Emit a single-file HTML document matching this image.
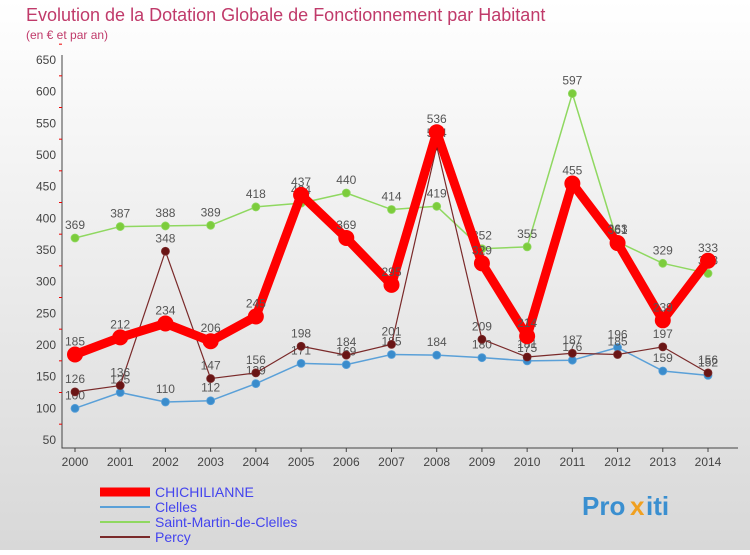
<!DOCTYPE html>
<html><head><meta charset="utf-8"><style>
body{margin:0;width:750px;height:550px;overflow:hidden;font-family:"Liberation Sans",sans-serif}
</style></head><body>
<svg width="750" height="550" xmlns="http://www.w3.org/2000/svg" id="svg">
<defs><linearGradient id="bg" x1="0" y1="0" x2="0" y2="1"><stop offset="0" stop-color="#ffffff"/><stop offset="1" stop-color="#d8d8d8"/></linearGradient></defs>
<rect x="0" y="0" width="750" height="550" fill="url(#bg)"/>
<text x="26" y="21" font-size="18" fill="#c03a6a">Evolution de la Dotation Globale de Fonctionnement par Habitant</text>
<text x="26" y="39" font-size="12" fill="#c03a6a">(en € et par an)</text>
<g id="axes"></g><g id="series"></g><g id="legend"></g>
<g font-size="26" font-weight="bold">
<text x="582" y="515" fill="#3a8fd0">Pro</text><text x="630" y="515" fill="#f0a020">x</text><text x="646" y="515" fill="#3a8fd0">iti</text></g>
</svg>
<script>
const years=["2000","2001","2002","2003","2004","2005","2006","2007","2008","2009","2010","2011","2012","2013","2014"];
const yTicks=[50,100,150,200,250,300,350,400,450,500,550,600,650];
const chich=[185,212,234,206,245,437,369,295,536,329,214,455,361,239,333];
const clelles=[100,125,110,112,139,171,169,185,184,180,175,176,196,159,152];
const smc=[369,387,388,389,418,424,440,414,419,352,355,597,363,329,313];
const percy=[126,136,348,147,156,198,184,201,514,209,181,187,185,197,156];
const NS="http://www.w3.org/2000/svg";
const X=i=>75+i*(633/14), Y=v=>440-(v-50)*380/600;
function mk(t,a,p){const e=document.createElementNS(NS,t);for(const k in a)e.setAttribute(k,a[k]);p.appendChild(e);return e;}
const ax=document.getElementById('axes');
let e=mk('path',{d:"M62 55V448H738",stroke:"#444",fill:"none","stroke-width":1},ax);

yTicks.forEach(v=>{
 const t=mk('text',{x:56,y:Y(v)+4,"font-size":12,"text-anchor":"end",fill:"#444"},ax);t.textContent=v;
 
 const m=mk('line',{x1:59,x2:62,y1:Y(v+25),y2:Y(v+25),stroke:"#e00"},ax);
 
});
years.forEach((y,i)=>{
 const t=mk('text',{x:X(i),y:466,"font-size":12,"text-anchor":"middle",fill:"#444"},ax);t.textContent=y;
 
 const m=mk('line',{x1:X(i),x2:X(i),y1:448,y2:452,stroke:"#444"},ax);
 
});
const S=document.getElementById('series');
function series(d,name,col,w,r,dot){
 const g=mk('g',{},S);
 const l=mk('polyline',{points:d.map((v,i)=>X(i)+","+Y(v)).join(" "),fill:"none",stroke:col,"stroke-width":w,"stroke-linejoin":"round"},g);
 
 d.forEach((v,i)=>{
  const c=mk('circle',{cx:X(i),cy:Y(v),r:r,fill:dot,stroke:col==dot?"none":col,"stroke-width":0.8},g);
  
  const t=mk('text',{x:X(i),y:Y(v)-9,"font-size":12,"text-anchor":"middle",fill:"#555"},g);t.textContent=v;
  
 });
}
series(smc,'saint-martin-de-clelles','#8fd860',1.5,4,'#7ccc3c');
series(clelles,'clelles','#5aa0d8',1.5,4,'#3a8ccc');
series(percy,'percy','#7a2a2a',1.2,4,'#6a1515');
series(chich,'chichilianne','#ff0000',9,8,'#ff0000');
const L=document.getElementById('legend');
[['CHICHILIANNE','#ff0000',9,'#4444ee'],['Clelles','#5aa0d8',2,'#4444ee'],['Saint-Martin-de-Clelles','#8fd860',2,'#4444ee'],['Percy','#7a2a2a',2,'#4444ee']].forEach((s,i)=>{
 const y=492+i*15;
 const l=mk('line',{x1:100,x2:150,y1:y,y2:y,stroke:s[1],"stroke-width":s[2]},L);
 
 const t=mk('text',{x:155,y:y+5,"font-size":14,fill:s[3]},L);t.textContent=s[0];
 
});
</script>
</body></html>
